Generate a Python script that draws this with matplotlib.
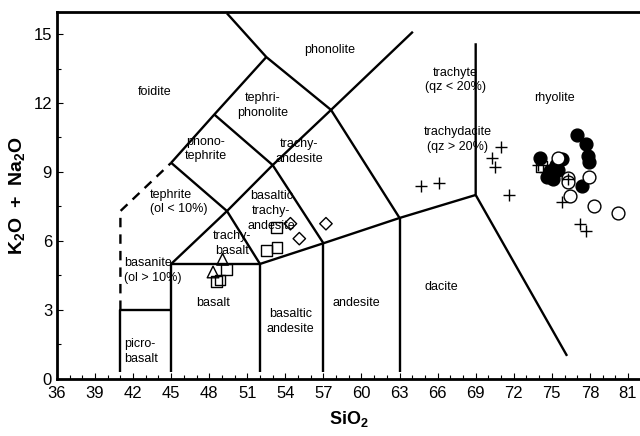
import matplotlib.pyplot as plt
from matplotlib.ticker import MultipleLocator

plt.rcParams['font.family'] = ['Liberation Sans', 'DejaVu Sans']
plt.rcParams['mathtext.fontset'] = 'custom'
plt.rcParams['mathtext.rm'] = 'Liberation Sans'
plt.rcParams['mathtext.bf'] = 'Liberation Sans:bold'

# TAS field boundaries (SiO2, K2O + Na2O)
solid_lines = [
    [(41, 0.3), (41, 3), (45, 3)],
    [(45, 0.3), (45, 5), (52, 5), (52, 0.3)],
    [(52, 5), (57, 5.9), (63, 7), (69, 8)],
    [(57, 0.3), (57, 5.9)],
    [(63, 0.3), (63, 7)],
    [(76.2, 1.0), (69, 8), (69, 14.6)],
    [(45, 5), (49.4, 7.3), (53, 9.3), (57.6, 11.7), (64.05, 15.1)],
    [(45, 9.4), (48.4, 11.5), (52.5, 14)],
    [(45, 9.4), (49.4, 7.3), (52, 5)],
    [(48.4, 11.5), (53, 9.3), (57, 5.9)],
    [(49.4, 15.9), (52.5, 14), (57.6, 11.7), (63, 7)],
]
dashed_lines = [
    [(41, 3), (41, 7.3), (45, 9.4)],
]

# sample data
plus_x = [64.7, 66.1, 71.0, 70.3, 70.5, 71.6, 75.8, 77.2, 77.7, 73.9, 74.5, 76.3]
plus_y = [8.4, 8.5, 10.1, 9.6, 9.2, 8.0, 7.7, 6.75, 6.45, 9.3, 9.0, 8.7]

filled_x = [76.95, 77.7, 77.85, 77.95, 74.1, 74.85, 75.1, 75.5, 75.8, 77.35, 75.3, 74.6]
filled_y = [10.6, 10.2, 9.7, 9.45, 9.6, 9.05, 8.7, 9.1, 9.55, 8.4, 9.3, 8.8]

open_x = [75.5, 76.25, 76.3, 76.4, 77.9, 78.35, 80.2]
open_y = [9.6, 8.75, 8.55, 7.95, 8.8, 7.5, 7.2]

square_x = [53.3, 52.5, 53.35, 49.35, 48.85, 48.6, 74.2, 74.7]
square_y = [6.6, 5.6, 5.7, 4.75, 4.3, 4.25, 9.25, 9.05]

diamond_x = [54.4, 55.1, 57.2]
diamond_y = [6.75, 6.1, 6.75]

triangle_x = [49.05, 48.3]
triangle_y = [5.2, 4.65]

labels = [
    (43.7, 12.5, 'foidite', 'center'),
    (57.5, 14.3, 'phonolite', 'center'),
    (52.2, 11.9, 'tephri-\nphonolite', 'center'),
    (47.7, 10.0, 'phono-\ntephrite', 'center'),
    (67.4, 13.0, 'trachyte\n(qz < 20%)', 'center'),
    (67.6, 10.4, 'trachydacite\n(qz > 20%)', 'center'),
    (75.2, 12.2, 'rhyolite', 'center'),
    (55.1, 9.9, 'trachy-\nandesite', 'center'),
    (52.9, 7.3, 'basaltic\ntrachy-\nandesite', 'center'),
    (43.3, 7.7, 'tephrite\n(ol < 10%)', 'left'),
    (41.3, 4.7, 'basanite\n(ol > 10%)', 'left'),
    (49.8, 5.9, 'trachy-\nbasalt', 'center'),
    (48.3, 3.3, 'basalt', 'center'),
    (41.3, 1.2, 'picro-\nbasalt', 'left'),
    (54.4, 2.5, 'basaltic\nandesite', 'center'),
    (59.6, 3.3, 'andesite', 'center'),
    (66.3, 4.0, 'dacite', 'center'),
]

fig = plt.figure(figsize=(6.4, 4.36), dpi=100)
ax = fig.add_axes([0.089, 0.131, 0.911, 0.841])

for line in solid_lines:
    xs, ys = zip(*line)
    ax.plot(xs, ys, color='black', lw=1.7, solid_capstyle='butt', zorder=2)
for line in dashed_lines:
    xs, ys = zip(*line)
    ax.plot(xs, ys, color='black', lw=1.7, ls=(0, (4, 3)), zorder=2)

for x, y, s, ha in labels:
    ax.text(x, y, s, ha=ha, va='center', fontsize=9, linespacing=1.3, zorder=3)

ax.scatter(filled_x, filled_y, s=85, c='black', marker='o', zorder=4)
ax.scatter(open_x, open_y, s=85, facecolors='white', edgecolors='black', linewidths=1, marker='o', zorder=4)
ax.scatter(square_x, square_y, s=60, facecolors='none', edgecolors='black', linewidths=1, marker='s', zorder=5)
ax.scatter(diamond_x, diamond_y, s=40, facecolors='none', edgecolors='black', linewidths=1, marker='D', zorder=5)
ax.scatter(triangle_x, triangle_y, s=70, facecolors='none', edgecolors='black', linewidths=1, marker='^', zorder=5)
ax.scatter(plus_x, plus_y, s=80, c='black', marker='+', linewidths=1, zorder=6)

ax.set_xlim(36, 81.95)
ax.set_ylim(0, 15.95)
ax.xaxis.set_major_locator(MultipleLocator(3))
ax.xaxis.set_minor_locator(MultipleLocator(1))
ax.yaxis.set_major_locator(MultipleLocator(3))
ax.yaxis.set_minor_locator(MultipleLocator(1.5))
ax.tick_params(which='both', direction='in', labelsize=12, width=0.8)
ax.tick_params(which='major', length=4)
ax.tick_params(which='minor', length=3)
ax.tick_params(axis='x', pad=5)

ax.spines['right'].set_visible(False)
for side in ['left', 'bottom', 'top']:
    ax.spines[side].set_linewidth(2)

ax.set_xlabel(r'$\mathbf{SiO_2}$', fontsize=13, labelpad=6)
ax.set_ylabel(r'$\mathbf{K_2O\ +\ Na_2O}$', fontsize=14, labelpad=5)

fig.savefig('out.png', dpi=100)
